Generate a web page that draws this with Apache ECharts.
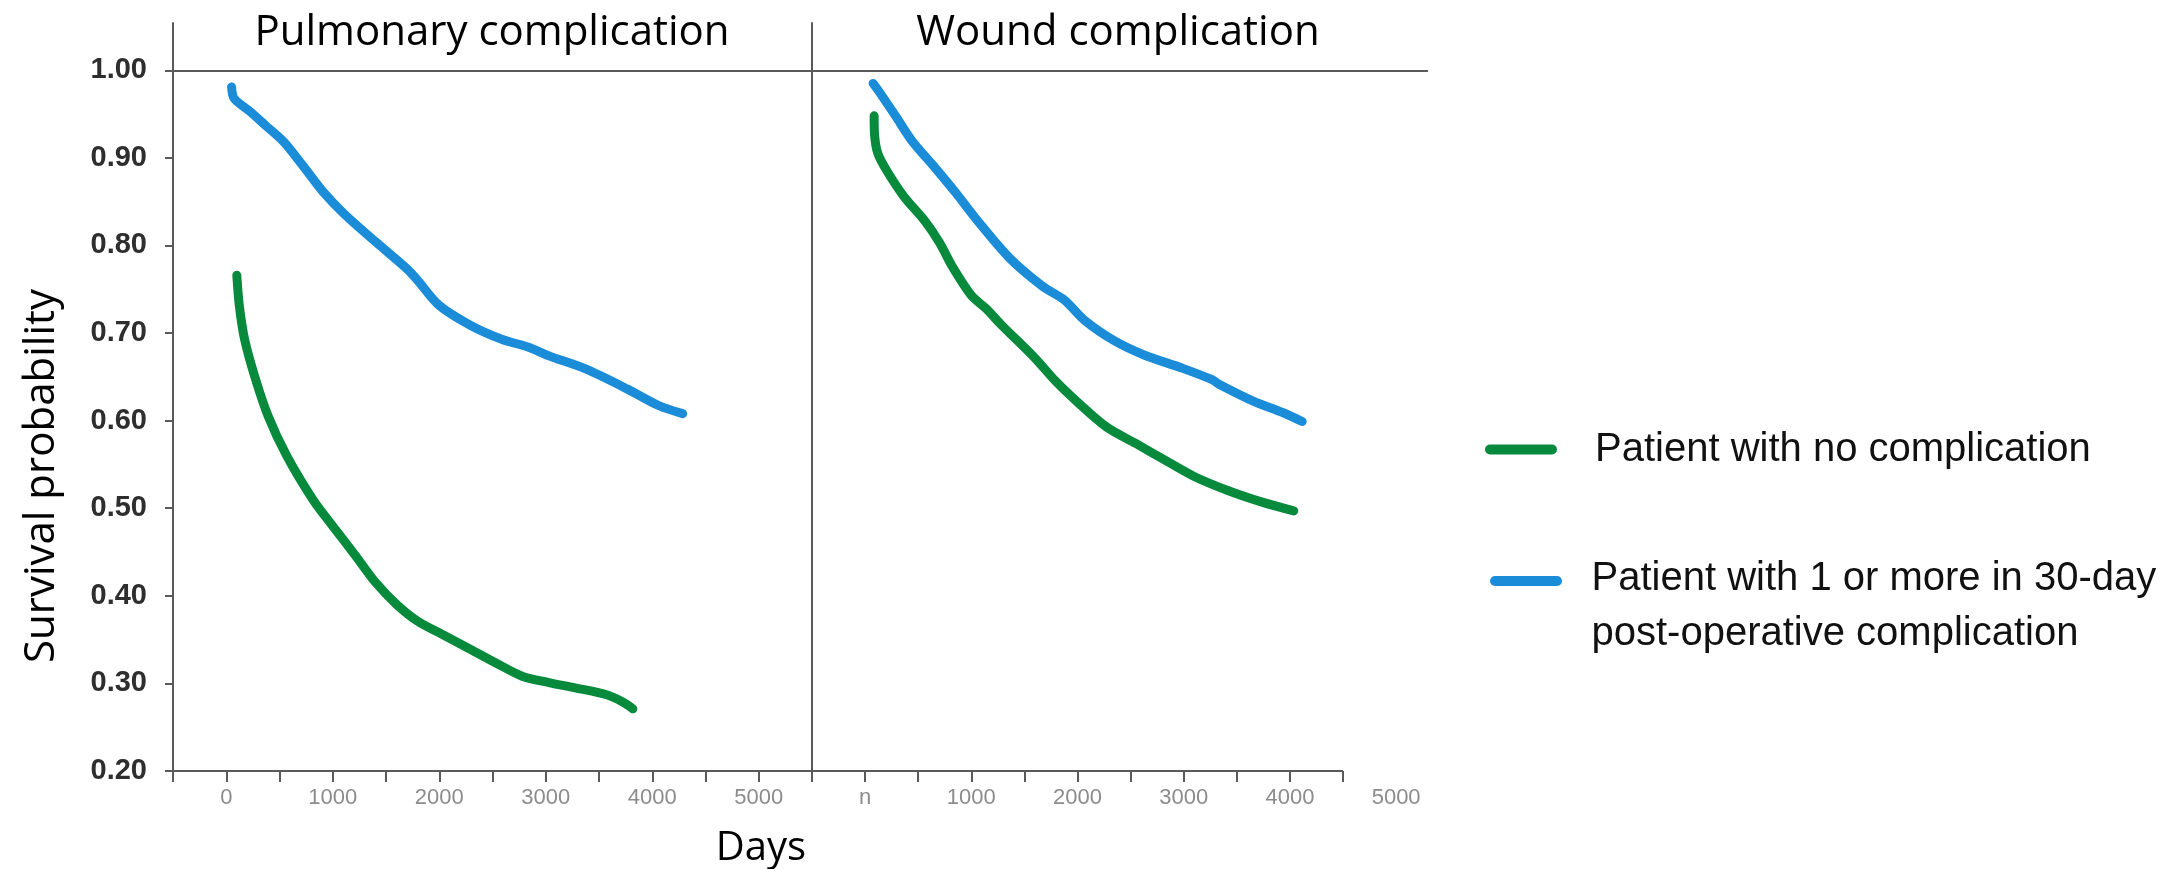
<!DOCTYPE html>
<html>
<head>
<meta charset="utf-8">
<title>Survival probability</title>
<script src="https://cdn.jsdelivr.net/npm/echarts@6/dist/echarts.min.js"></script>
<style>
html, body { margin: 0; padding: 0; background: #fff; }
#main { width: 2172px; height: 869px; }
</style>
</head>
<body>
<div id="main"></div>
<script>
var panelTitles = ['Pulmonary complication', 'Wound complication'];
var seriesNames = ['Patient with no complication', 'Patient with 1 or more in 30-day post-operative complication'];
var yTicks = [0.2, 0.3, 0.4, 0.5, 0.6, 0.7, 0.8, 0.9, 1.0];
var xLabels = [0, 1000, 2000, 3000, 4000, 5000];
var rightTicks = [-500, 0, 500, 1000, 1500, 2000, 2500, 3000, 3500, 4000, 4500];

// [days, survival probability]
var pulmNone = [[99, 0.766], [123, 0.731], [172, 0.693], [271, 0.649], [394, 0.605], [567, 0.560], [813, 0.510], [1010, 0.478], [1207, 0.447], [1404, 0.415], [1601, 0.390], [1798, 0.371], [2044, 0.355], [2291, 0.339], [2537, 0.323], [2783, 0.308], [3030, 0.301], [3276, 0.295], [3571, 0.287], [3719, 0.279], [3818, 0.271]];
var pulmComp = [[50, 0.981], [74, 0.968], [222, 0.953], [369, 0.937], [542, 0.918], [714, 0.892], [911, 0.861], [1108, 0.836], [1404, 0.804], [1700, 0.773], [1798, 0.760], [1995, 0.732], [2291, 0.709], [2586, 0.693], [2833, 0.684], [3030, 0.674], [3374, 0.659], [3768, 0.636], [4064, 0.617], [4286, 0.608]];
var woundNone = [[85, 0.948], [90, 0.925], [120, 0.905], [206, 0.885], [365, 0.856], [563, 0.828], [702, 0.803], [821, 0.776], [1000, 0.743], [1139, 0.728], [1278, 0.710], [1595, 0.672], [1794, 0.645], [1992, 0.622], [2270, 0.593], [2548, 0.574], [2865, 0.552], [3103, 0.536], [3421, 0.520], [3738, 0.507], [4036, 0.497]];
var woundComp = [[75, 0.985], [147, 0.973], [286, 0.948], [444, 0.919], [643, 0.891], [861, 0.859], [1040, 0.831], [1357, 0.786], [1675, 0.753], [1873, 0.738], [2071, 0.714], [2349, 0.691], [2627, 0.675], [2984, 0.660], [3262, 0.647], [3341, 0.641], [3659, 0.622], [3937, 0.609], [4115, 0.599]];

var GREEN = '#078a3c';
var BLUE = '#1b8cd8';
var AXIS = '#5a5a5a';
var LEGEND_FONT = 'Liberation Sans Narrow, Liberation Sans';

var myChart = echarts.init(document.getElementById('main'), null, { renderer: 'canvas' });

function curve(name, color, data, idx) {
	return {
		name: name,
		type: 'line',
		xAxisIndex: idx,
		yAxisIndex: idx,
		data: data,
		color: color,
		showSymbol: false,
		smooth: 0.3,
		lineStyle: { width: 9, color: color, cap: 'round', join: 'round' },
		silent: true,
		z: 5
	};
}

function yAxisOf(idx) {
	return {
		type: 'value',
		gridIndex: idx,
		min: 0.2,
		max: 1.054,
		splitLine: { show: false },
		axisLine: { show: true, onZero: false, lineStyle: { color: AXIS, width: 2 } },
		axisTick: { show: idx === 0, length: 8, customValues: yTicks, lineStyle: { color: AXIS, width: 2 } },
		axisLabel: {
			show: idx === 0,
			customValues: yTicks,
			margin: 26,
			formatter: function (v) { return v.toFixed(2); },
			fontFamily: 'Liberation Sans',
			fontWeight: 'bold',
			fontSize: 29,
			color: '#2e2e2e'
		}
	};
}

var pill = 'path://M5,0 H67 A5,5 0 0 1 67,10 H5 A5,5 0 0 1 5,0 Z';

var option = {
	backgroundColor: '#fff',
	animation: false,
	grid: [
		{ left: 173, top: 23, width: 639, height: 748 },
		{ left: 812, top: 23, width: 616, height: 748 }
	],
	xAxis: [{
		type: 'value',
		gridIndex: 0,
		min: -500,
		max: 5500,
		interval: 500,
		splitLine: { show: false },
		axisLine: { onZero: false, lineStyle: { color: AXIS, width: 2 } },
		axisTick: { length: 11, lineStyle: { color: AXIS, width: 2 } },
		axisLabel: {
			customValues: xLabels,
			margin: 16,
			fontFamily: 'Liberation Sans',
			fontSize: 22,
			color: '#8c8c8c',
			formatter: function (v) { return String(v); }
		}
	}, {
		type: 'value',
		gridIndex: 1,
		min: -500,
		max: 5300,
		splitLine: { show: false },
		axisLine: { show: false, onZero: false },
		axisTick: { show: true, length: 11, customValues: rightTicks, lineStyle: { color: AXIS, width: 2 } },
		axisLabel: {
			customValues: xLabels,
			margin: 16,
			fontFamily: 'Liberation Sans',
			fontSize: 22,
			color: '#8c8c8c',
			formatter: function (v) { return v === 0 ? 'n' : String(v); }
		}
	}],
	yAxis: [yAxisOf(0), yAxisOf(1)],
	legend: [{
		data: [seriesNames[0]],
		left: 1485,
		top: 422,
		padding: 0,
		icon: pill,
		itemWidth: 72,
		itemHeight: 10,
		selectedMode: false,
		textStyle: { fontFamily: LEGEND_FONT, fontSize: 40, color: '#111', lineHeight: 55, padding: [0, 0, 0, 33] }
	}, {
		data: [seriesNames[1]],
		left: 1490,
		top: 521,
		padding: 0,
		icon: pill,
		itemWidth: 79,
		itemHeight: 10,
		selectedMode: false,
		formatter: function () {
			return '{s|\u00a0}\n{t|Patient with 1 or more in 30-day}\n{t|post-operative complication}';
		},
		textStyle: {
			padding: [0, 0, 0, 21],
			rich: {
				s: { fontSize: 10, lineHeight: 50 },
				t: { fontFamily: LEGEND_FONT, fontSize: 40, color: '#111', lineHeight: 55 }
			}
		}
	}],
	graphic: [
		{ type: 'text', x: 492, y: 33, style: { text: panelTitles[0], font: '42px "Open Sans"', fill: '#000', align: 'center', verticalAlign: 'middle' } },
		{ type: 'text', x: 1118, y: 33, style: { text: panelTitles[1], font: '42px "Open Sans"', fill: '#000', align: 'center', verticalAlign: 'middle' } },
		{ type: 'text', x: 761, y: 849, style: { text: 'Days', font: '40px "Open Sans"', fill: '#000', align: 'center', verticalAlign: 'middle' } },
		{ type: 'text', x: 42, y: 476, rotation: Math.PI / 2, style: { text: 'Survival probability', font: '42px "Open Sans"', fill: '#000', align: 'center', verticalAlign: 'middle' } }
	],
	series: [
		curve(seriesNames[0], GREEN, pulmNone, 0),
		curve(seriesNames[1], BLUE, pulmComp, 0),
		curve(seriesNames[0], GREEN, woundNone, 1),
		curve(seriesNames[1], BLUE, woundComp, 1),
		{
			// reference lines: survival 1.00 across both panels, baseline of the right panel
			type: 'line',
			xAxisIndex: 0,
			yAxisIndex: 0,
			data: [],
			markLine: {
				silent: true,
				symbol: 'none',
				label: { show: false },
				lineStyle: { color: AXIS, width: 2, type: 'solid' },
				data: [{ yAxis: 1.0 }]
			}
		},
		{
			type: 'line',
			xAxisIndex: 1,
			yAxisIndex: 1,
			data: [],
			markLine: {
				silent: true,
				symbol: 'none',
				label: { show: false },
				lineStyle: { color: AXIS, width: 2, type: 'solid' },
				data: [
					{ yAxis: 1.0 },
					[{ coord: [-500, 0.2] }, { coord: [4500, 0.2] }]
				]
			}
		}
	]
};

myChart.setOption(option);

window.onresize = function () {
	myChart.resize();
};
</script>
</body>
</html>
